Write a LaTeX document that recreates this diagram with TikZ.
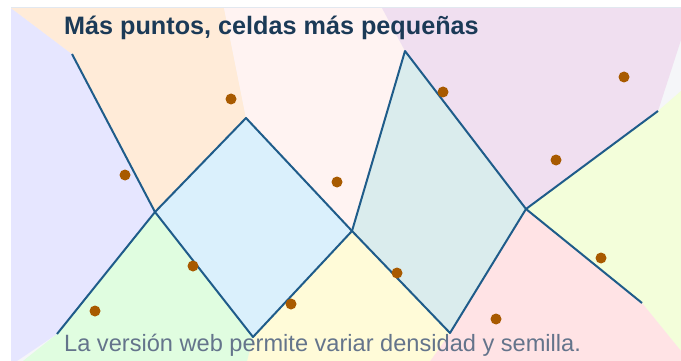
\documentclass[tikz,border=0pt]{standalone}
\usepackage{fontspec}
\setmainfont{Liberation Sans}
\definecolor{cLav}{HTML}{E6E6FF}
\definecolor{cPeach}{HTML}{FFEBD8}
\definecolor{cRose}{HTML}{FFF3F2}
\definecolor{cBlue}{HTML}{DAF0FC}
\definecolor{cTeal}{HTML}{DAECED}
\definecolor{cPurp}{HTML}{F0DFF0}
\definecolor{cLime}{HTML}{F3FEDA}
\definecolor{cPink}{HTML}{FFE3E5}
\definecolor{cYel}{HTML}{FFFBD8}
\definecolor{cGreen}{HTML}{E0FDE0}
\definecolor{cPanel}{HTML}{F5F6F9}
\definecolor{cBorder}{HTML}{E2E8F0}
\definecolor{cEdge}{HTML}{1F5C8A}
\definecolor{cDot}{HTML}{A85A00}
\definecolor{cTitle}{HTML}{1B3A57}
\definecolor{cFoot}{HTML}{64748B}
\tikzset{
  cell/.style={draw=none},
  edge/.style={draw=cEdge, line width=2pt, line join=round},
  site/.style={circle, fill=cDot, inner sep=0pt, minimum size=11pt},
}
\begin{document}
\begin{tikzpicture}[x=1pt,y=-1pt]
\useasboundingbox (0,0) rectangle (681,361);
\fill[white] (0,0) rectangle (681,361);
\fill[cPanel] (11,8) rectangle (690,370);
% vertices
\coordinate (A) at (72,54);
\coordinate (B) at (155,212);
\coordinate (C) at (246,118);
\coordinate (D) at (352,231);
\coordinate (E) at (253,337);
\coordinate (F) at (57,334);
\coordinate (G) at (405,51);
\coordinate (H) at (526,209);
\coordinate (I) at (450,333);
\coordinate (J) at (658,111);
\coordinate (K) at (642,303);
% cells
\fill[cLav] (11,8) -- (A) -- (B) -- (F) -- (17,361) -- (11,361) -- cycle;
\fill[cPeach] (11,8) -- (224,8) -- (C) -- (B) -- (A) -- cycle;
\fill[cRose] (224,8) -- (382,8) -- (G) -- (D) -- (C) -- cycle;
\fill[cBlue] (B) -- (C) -- (D) -- (E) -- cycle;
\fill[cTeal] (D) -- (G) -- (H) -- (I) -- cycle;
\fill[cPurp] (382,8) -- (681,8) -- (681,40) -- (J) -- (H) -- (G) -- cycle;
\fill[cLime] (J) -- (681,91) -- (681,351) -- (K) -- (H) -- cycle;
\fill[cPink] (H) -- (K) -- (681,351) -- (681,361) -- (430,361) -- (I) -- cycle;
\fill[cYel] (D) -- (I) -- (430,361) -- (247,361) -- (E) -- cycle;
\fill[cGreen] (B) -- (E) -- (247,361) -- (23,361) -- (F) -- cycle;
\draw[cBorder, line width=1pt] (11,8) -- (681,8);
% edges
\draw[edge] (A) -- (B);
\draw[edge] (B) -- (C) -- (D) -- (E) -- cycle;
\draw[edge] (B) -- (F);
\draw[edge] (D) -- (G) -- (H) -- (I) -- cycle;
\draw[edge] (H) -- (J);
\draw[edge] (H) -- (K);
% sites
\node[site] (s1) at (231,99) {};
\node[site] (s2) at (125,175) {};
\node[site] (s3) at (337,182) {};
\node[site] (s4) at (443,92) {};
\node[site] (s5) at (624,77) {};
\node[site] (s6) at (556,160) {};
\node[site] (s7) at (193,266) {};
\node[site] (s8) at (95,311) {};
\node[site] (s9) at (291,304) {};
\node[site] (s10) at (397,273) {};
\node[site] (s11) at (601,258) {};
\node[site] (s12) at (496,319) {};
% texts
\node[anchor=base west, inner sep=0pt, text=cTitle, font=\fontsize{25.2}{30}\selectfont\bfseries] (title) at (64,34.7) {Más puntos, celdas más pequeñas};
\node[anchor=base west, inner sep=0pt, text=cFoot, font=\fontsize{23.6}{28}\selectfont] (foot) at (64,351) {La versión web permite variar densidad y semilla.};
\end{tikzpicture}
\end{document}
